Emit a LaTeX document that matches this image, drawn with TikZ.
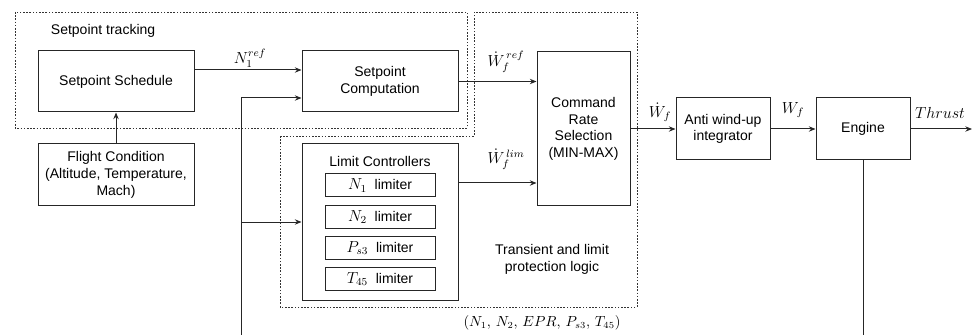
\documentclass[tikz,border=0pt]{standalone}
\usepackage{fontspec}
\setmainfont{Liberation Sans}
\usetikzlibrary{arrows.meta}
\begin{document}
\begin{tikzpicture}[x=0.75pt,y=-0.75pt,
  line width=0.75pt,
  every node/.style={font=\fontsize{10.5}{12.5}\selectfont},
  blk/.style={draw=black!85, fill=white, align=center, inner sep=1pt},
  sig/.style={draw=black!85, -{Stealth[length=5pt,width=4pt]}},
  wire/.style={draw=black!85},
  grp/.style={draw=black!80, line width=0.6pt, dash pattern=on 1.2pt off 1.2pt},
  mlab/.style={font=\fontsize{12}{14}\selectfont, inner sep=0pt},
  lim/.style={blk, minimum width=82.5pt, minimum height=17.25pt}]
\useasboundingbox (0,0) rectangle (976,335);

% dashed grouping frames
\draw[grp] (15,12) rectangle (467,128);
\draw[grp] (280,136) -- (474,136) -- (474,12) -- (637,12) -- (637,307) -- (280,307) -- cycle;
\node[anchor=west] (trk) at (46,31) {Setpoint tracking};
\node[align=center] (prot) at (552,259.5) {Transient and limit\\protection logic};

% blocks
\node[blk, minimum width=117pt, minimum height=45.75pt] (ss) at (116,81.5) {Setpoint Schedule};
\node[blk, minimum width=117pt, minimum height=45.75pt] (sc) at (380,81.5) {Setpoint\\Computation};
\node[blk, minimum width=117pt, minimum height=46.5pt] (fc) at (116,175) {Flight Condition\\(Altitude, Temperature,\\Mach)};
\node[blk, minimum width=117pt, minimum height=117pt] (lc) at (380,222) {};
\node (lct) at (380,161) {Limit Controllers};
\node[lim] (l1) at (380,185.5) {{\fontsize{12}{14}\selectfont$N_1$}\ \ limiter};
\node[lim] (l2) at (380,217) {{\fontsize{12}{14}\selectfont$N_2$}\ \ limiter};
\node[lim] (l3) at (380,248) {{\fontsize{12}{14}\selectfont$P_{s3}$}\ \ limiter};
\node[lim] (l4) at (380,279) {{\fontsize{12}{14}\selectfont$T_{45}$}\ \ limiter};
\node[blk, minimum width=69.75pt, minimum height=115.5pt] (crs) at (583.5,129) {Command\\Rate\\Selection\\(MIN-MAX)};
\node[blk, minimum width=70.5pt, minimum height=46.5pt] (aw) at (723,129) {Anti wind-up\\integrator};
\node[blk, minimum width=70.5pt, minimum height=46.5pt] (eng) at (863,129) {Engine};

% helper points
\coordinate (yN) at (0,70);
\coordinate (yfb) at (0,98);
\coordinate (ylim) at (0,183);
\coordinate (fbl) at (241,335);
\coordinate (out) at (972,129);

% signal flow
\draw[sig] (fc.north) -- (ss.south);
\draw[sig] (ss.east |- yN) -- (sc.west |- yN);
\draw[sig] (sc.east) -- (crs.west |- sc.east);
\draw[sig] (lc.east |- ylim) -- (crs.west |- ylim);
\draw[sig] (crs.east) -- (aw.west);
\draw[sig] (aw.east) -- (eng.west);
\draw[sig] (eng.east) -- (out);

% measured feedback
\draw[wire] (eng.south) -- (eng.south |- fbl);
\draw[sig] (fbl) |- (sc.west |- yfb);
\draw[sig] (fbl |- lc.west) -- (lc.west);

% signal labels
\node[mlab] (lN) at (250,58) {$N_1^{ref}$};
\node[mlab] (lWr) at (506,62) {${\dot{W}_f}^{\,ref}$};
\node[mlab] (lWl) at (506,159) {${\dot{W}_f}^{\,lim}$};
\node[mlab] (lWd) at (660,112) {$\dot{W}_f$};
\node[mlab] (lW) at (793,110) {$W_f$};
\node[mlab] (lT) at (940,113) {$Thrust$};
\node[inner sep=0pt] (lfb) at (542,323) {$(N_1,\,N_2,\,EPR,\,P_{s3},\,T_{45})$};
\end{tikzpicture}
\end{document}
